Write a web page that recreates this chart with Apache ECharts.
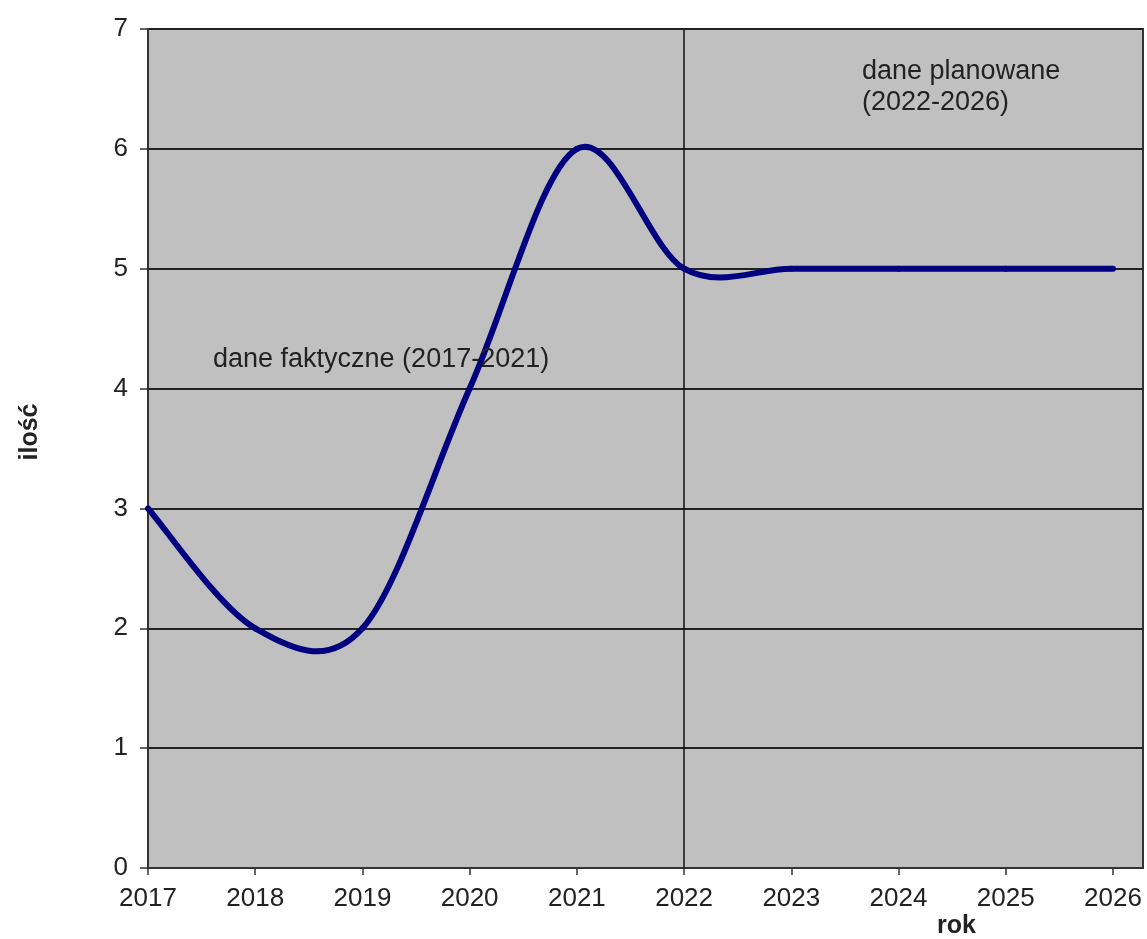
<!DOCTYPE html>
<html>
<head>
<meta charset="utf-8">
<script src="https://cdn.jsdelivr.net/npm/echarts@6/dist/echarts.min.js"></script>
<style>
html,body{margin:0;padding:0;background:#fff;}
#chart{width:1147px;height:939px;}
</style>
</head>
<body>
<div id="chart"></div>
<script>
const years = [2017, 2018, 2019, 2020, 2021, 2022, 2023, 2024, 2025, 2026];
const values = [3, 2, 2, 4, 6, 5, 5, 5, 5, 5];
const yTicks = [0, 1, 2, 3, 4, 5, 6, 7];
const splitYear = 2022;
const noteActual = 'dane faktyczne (2017-2021)';
const notePlanned = 'dane planowane\n(2022-2026)';
const xTitle = 'rok';
const yTitle = 'ilość';

const FONT = "'Liberation Sans', Arial, sans-serif";
const N = years.length;

// Smoothed line drawn as Catmull-Rom style Bezier segments between the data points
function renderSegment(params, api) {
  const i = params.dataIndexInside;
  if (i >= N - 1) return null;
  const P = k => {
    const j = Math.max(0, Math.min(N - 1, k));
    return api.coord([api.value(0, j), api.value(1, j)]);
  };
  const p0 = P(i - 1), p1 = P(i), p2 = P(i + 1), p3 = P(i + 2);
  const t = 1 / 6;
  return {
    type: 'bezierCurve',
    shape: {
      x1: p1[0], y1: p1[1], x2: p2[0], y2: p2[1],
      cpx1: p1[0] + (p2[0] - p0[0]) * t, cpy1: p1[1] + (p2[1] - p0[1]) * t,
      cpx2: p2[0] - (p3[0] - p1[0]) * t, cpy2: p2[1] - (p3[1] - p1[1]) * t
    },
    style: { stroke: '#000080', lineWidth: 6, fill: null, lineCap: 'round' }
  };
}

const chart = echarts.init(document.getElementById('chart'));
chart.setOption({
  animation: false,
  backgroundColor: '#ffffff',
  grid: {
    left: 148, right: 4, top: 29, bottom: 71,
    show: true, backgroundColor: '#c0c0c0', borderColor: '#333', borderWidth: 2
  },
  xAxis: {
    type: 'value',
    min: 2017, max: 2026.28, interval: 1,
    axisLine: { onZero: false, lineStyle: { color: '#333', width: 2 } },
    axisTick: { show: true, length: 7, lineStyle: { color: '#333', width: 1.5 } },
    splitLine: { show: false },
    axisLabel: {
      margin: 18, fontSize: 26, color: '#222', fontFamily: FONT,
      showMaxLabel: false,
      formatter: v => Number.isInteger(v) ? String(v) : ''
    }
  },
  yAxis: {
    type: 'value',
    min: yTicks[0], max: yTicks[yTicks.length - 1], interval: 1,
    axisLine: { show: true, lineStyle: { color: '#333', width: 2 } },
    axisTick: { show: true, length: 8, lineStyle: { color: '#333', width: 1.5 } },
    splitLine: { show: true, lineStyle: { color: '#222', width: 1.8 } },
    axisLabel: { margin: 20, fontSize: 26, color: '#222', fontFamily: FONT }
  },
  series: [{
    type: 'custom',
    renderItem: renderSegment,
    data: years.map((y, i) => [y, values[i]]),
    encode: { x: 0, y: 1 },
    z: 3,
    markLine: {
      silent: true, symbol: 'none',
      label: { show: false },
      lineStyle: { color: '#111', width: 1.5, type: 'solid' },
      data: [{ xAxis: splitYear }],
      z: 2
    }
  }],
  graphic: [
    { type: 'text', left: 213, top: 346, z: 10,
      style: { text: noteActual, fontSize: 27, fill: '#222', fontFamily: FONT } },
    { type: 'text', left: 862, top: 56, z: 10,
      style: { text: notePlanned, fontSize: 27, lineHeight: 31, fill: '#222', fontFamily: FONT } },
    { type: 'text', left: 937, top: 914, z: 10,
      style: { text: xTitle, fontSize: 25, fontWeight: 'bold', fill: '#222', fontFamily: FONT } },
    { type: 'text', x: 30, y: 432, rotation: Math.PI / 2, z: 10,
      style: { text: yTitle, fontSize: 25, fontWeight: 'bold', fill: '#222', fontFamily: FONT,
               align: 'center', verticalAlign: 'middle' } }
  ]
});
</script>
</body>
</html>
